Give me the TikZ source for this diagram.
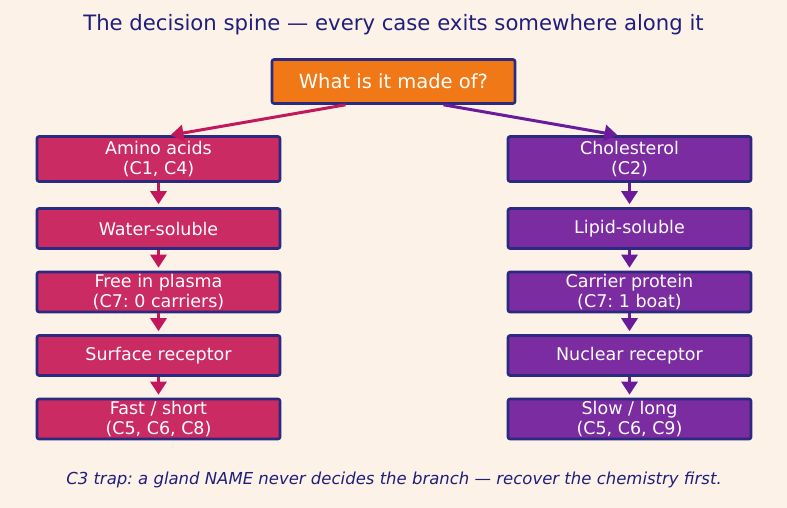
\documentclass[tikz,border=0pt]{standalone}
\usepackage{fontspec}
\setmainfont{DejaVu Sans}
\usetikzlibrary{positioning}
\usetikzlibrary{arrows.meta}
\frenchspacing

\definecolor{bgcol}{HTML}{FDF2E8}
\definecolor{navy}{HTML}{1F1F7A}
\definecolor{edge}{HTML}{2B2A80}
\definecolor{orangefill}{HTML}{F07816}
\definecolor{aminofill}{HTML}{CA2B62}
\definecolor{lipidfill}{HTML}{7A2CA0}
\definecolor{aminoline}{HTML}{C2185B}
\definecolor{lipidline}{HTML}{6A1B9A}

\begin{document}
\begin{tikzpicture}[x=1pt,y=-1pt,
  box/.style={draw=edge, line width=2.6pt, rounded corners=2pt, minimum width=243pt,
    minimum height=40pt, align=center, text=white, inner sep=1pt,
    font=\fontsize{17.5}{19.5}\selectfont},
  amino/.style={box, fill=aminofill},
  lipid/.style={box, fill=lipidfill},
  flow/.style={line width=3pt, -{Triangle[width=16pt,length=13pt]}}]

  \fill[bgcol] (0,0) rectangle (787,508);

  \node[text=navy, font=\fontsize{21.2}{24}\selectfont] (title) at (393.5,24.5) {The decision spine — every case exits somewhere along it};

  \node[box, fill=orangefill, minimum height=44pt, font=\fontsize{19.5}{22}\selectfont] (top) at (393.5,81.5) {What is it made of?};

  \node[amino, minimum height=45pt] (a1) at (158.5,159) {Amino acids\\(C1, C4)};
  \node[amino] (a2) at (158.5,228.5) {Water-soluble};
  \node[amino] (a3) at (158.5,292) {Free in plasma\\(C7: 0 carriers)};
  \node[amino] (a4) at (158.5,355.5) {Surface receptor};
  \node[amino] (a5) at (158.5,419) {Fast / short\\(C5, C6, C8)};

  \node[lipid, minimum height=45pt] (l1) at (629.5,159) {Cholesterol\\(C2)};
  \node[lipid] (l2) at (629.5,228.5) {Lipid-soluble};
  \node[lipid] (l3) at (629.5,292) {Carrier protein\\(C7: 1 boat)};
  \node[lipid] (l4) at (629.5,355.5) {Nuclear receptor};
  \node[lipid] (l5) at (629.5,419) {Slow / long\\(C5, C6, C9)};

  \node[text=navy, font=\itshape\fontsize{16.5}{19}\selectfont] (note) at (394,479.5) {C3 trap: a gland NAME never decides the branch — recover the chemistry first.};

  \draw[flow, aminoline] ([xshift=-48pt]top.south) -- ([xshift=12pt]a1.north);
  \draw[flow, lipidline] ([xshift=50pt]top.south) -- ([xshift=-12pt]l1.north);

  \draw[flow, aminoline, shorten >=3pt] (a1) -- (a2);
  \draw[flow, aminoline, shorten >=3pt] (a2) -- (a3);
  \draw[flow, aminoline, shorten >=3pt] (a3) -- (a4);
  \draw[flow, aminoline, shorten >=3pt] (a4) -- (a5);
  \draw[flow, lipidline, shorten >=3pt] (l1) -- (l2);
  \draw[flow, lipidline, shorten >=3pt] (l2) -- (l3);
  \draw[flow, lipidline, shorten >=3pt] (l3) -- (l4);
  \draw[flow, lipidline, shorten >=3pt] (l4) -- (l5);
\end{tikzpicture}
\end{document}
